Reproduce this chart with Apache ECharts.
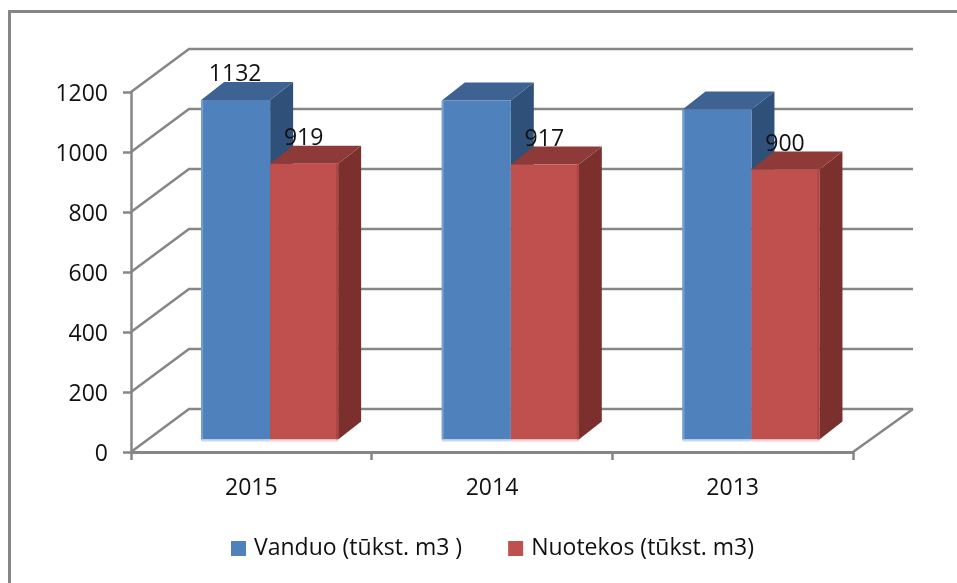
<!DOCTYPE html>
<html>
<head>
<meta charset="utf-8">
<style>html,body{margin:0;padding:0;background:#fff}#chart{width:957px;height:583px}</style>
<script src="https://cdn.jsdelivr.net/npm/echarts@6/dist/echarts.min.js"></script>
</head>
<body>
<div id="chart"></div>
<script>
const categories = ["2015", "2014", "2013"];
const vanduo = [1132, 1130, 1100];
const nuotekos = [919, 917, 900];
const vanduoLabels = ["1132", "", ""];
const nuotekosLabels = ["919", "917", "900"];
const yTicks = [0, 200, 400, 600, 800, 1000, 1200];

const FONT = "Open Sans";
const GRID = "#868686";
const WALL_DX = 60, WALL_DY = 43; // how far the back wall sits behind the axes
const BAR_DX = 23, BAR_DY = 18; // bar depth
const SHIFT_X = 18.8, SHIFT_Y = 12.5; // bars stand this far in from the front edge

const chart = echarts.init(document.getElementById("chart"));

// 后墙网格线 + 左侧斜线
function wallItem(params, api) {
  const cs = params.coordSys;
  const y = api.coord([0, api.value(0)])[1];
  const x0 = cs.x, x1 = cs.x + cs.width;
  const style = { stroke: GRID, lineWidth: 2.5, fill: null };
  const children = [
    { type: "polyline", shape: { points: [[x0, y], [x0 + WALL_DX - 2, y - WALL_DY], [x1 + WALL_DX, y - WALL_DY]] }, style: style }
  ];
  if (api.value(0) === 0) {
    children.push({ type: "line", shape: { x1: x1, y1: y, x2: x1 + WALL_DX, y2: y - WALL_DY }, style: style });
  }
  return { type: "group", children: children };
}

function barItem(side, barW, labels, cols) {
  return function (params, api) {
    const i = params.dataIndex;
    const top = api.coord([i, api.value(1)]);
    const zero = api.coord([i, 0]);
    const cx = top[0] + SHIFT_X;
    const left = side < 0 ? cx - barW : cx;
    const right = left + barW;
    const ty = top[1] - SHIFT_Y;
    const by = zero[1] - SHIFT_Y;
    const edgeX = side < 0 ? left : right - 2;
    const children = [
      { type: "polygon", shape: { points: [[right, ty], [right + BAR_DX, ty - BAR_DY], [right + BAR_DX, by - BAR_DY], [right, by]] }, style: { fill: cols.side } },
      { type: "polygon", shape: { points: [[left, ty], [left + BAR_DX, ty - BAR_DY], [right + BAR_DX, ty - BAR_DY], [right, ty]] }, style: { fill: cols.top } },
      { type: "rect", shape: { x: left, y: ty, width: barW, height: by - ty }, style: { fill: cols.front } },
      { type: "rect", shape: { x: edgeX, y: ty, width: 2, height: by - ty }, style: { fill: cols.edge } },
      { type: "rect", shape: { x: left, y: by, width: barW, height: 2 }, style: { fill: cols.pale } }
    ];
    if (labels[i]) {
      children.push({
        type: "text",
        style: { text: labels[i], x: left + barW / 2 - 0.5, y: ty - 25, align: "center", verticalAlign: "middle", font: "23px '" + FONT + "'", fill: "#111" }
      });
    }
    return { type: "group", children: children };
  };
}

chart.setOption({
  animation: false,
  backgroundColor: "#fff",
  graphic: [
    { type: "polyline", shape: { points: [[9.5, 583], [9.5, 11.5], [957, 11.5]] }, style: { stroke: GRID, lineWidth: 3, fill: null } }
  ],
  legend: {
    left: 226,
    top: 532,
    itemWidth: 15,
    itemHeight: 15,
    itemGap: 46,
    textStyle: { fontFamily: FONT, fontSize: 23, color: "#111", padding: [0, 0, 0, 3] },
    data: [
      { name: "Vanduo (tūkst. m3 )", icon: "rect", itemStyle: { color: "#4F81BD" } },
      { name: "Nuotekos (tūkst. m3)", icon: "rect", itemStyle: { color: "#C0504D" } }
    ]
  },
  grid: { left: 131, top: 92, width: 722, height: 360 },
  xAxis: {
    type: "category",
    data: categories,
    axisLine: { lineStyle: { color: GRID, width: 3 } },
    axisTick: { show: true, length: 8, alignWithLabel: false, lineStyle: { color: GRID, width: 2.5 } },
    axisLabel: { fontFamily: FONT, fontSize: 23, color: "#111", margin: 25 }
  },
  yAxis: {
    type: "value",
    min: 0,
    max: 1200,
    interval: 200,
    splitLine: { show: false },
    axisLine: { show: true, lineStyle: { color: GRID, width: 2.5 } },
    axisTick: { show: true, length: 8, lineStyle: { color: GRID, width: 2.5 } },
    axisLabel: {
      margin: 23,
      formatter: function (v) { return "{t|" + v + "}"; },
      rich: { t: { fontFamily: FONT, fontSize: 23, color: "#111", padding: [4, 0, 0, 0] } }
    }
  },
  series: [
    {
      type: "custom",
      silent: true,
      z: 1,
      coordinateSystem: "cartesian2d",
      renderItem: wallItem,
      encode: { y: 0 },
      data: yTicks.map(function (t) { return [t]; })
    },
    {
      name: "Vanduo (tūkst. m3 )",
      type: "custom",
      z: 2,
      renderItem: barItem(-1, 69, vanduoLabels, { front: "#4F81BD", top: "#3E6291", side: "#2F5078", edge: "#77A0D2", pale: "#C9D8EC" }),
      encode: { x: 0, y: 1 },
      data: vanduo.map(function (v, i) { return [i, v]; })
    },
    {
      name: "Nuotekos (tūkst. m3)",
      type: "custom",
      z: 3,
      renderItem: barItem(1, 68, nuotekosLabels, { front: "#C0504D", top: "#8E3A38", side: "#7B302E", edge: "#A84643", pale: "#F2D2D1" }),
      encode: { x: 0, y: 1 },
      data: nuotekos.map(function (v, i) { return [i, v]; })
    }
  ]
});
</script>
</body>
</html>
